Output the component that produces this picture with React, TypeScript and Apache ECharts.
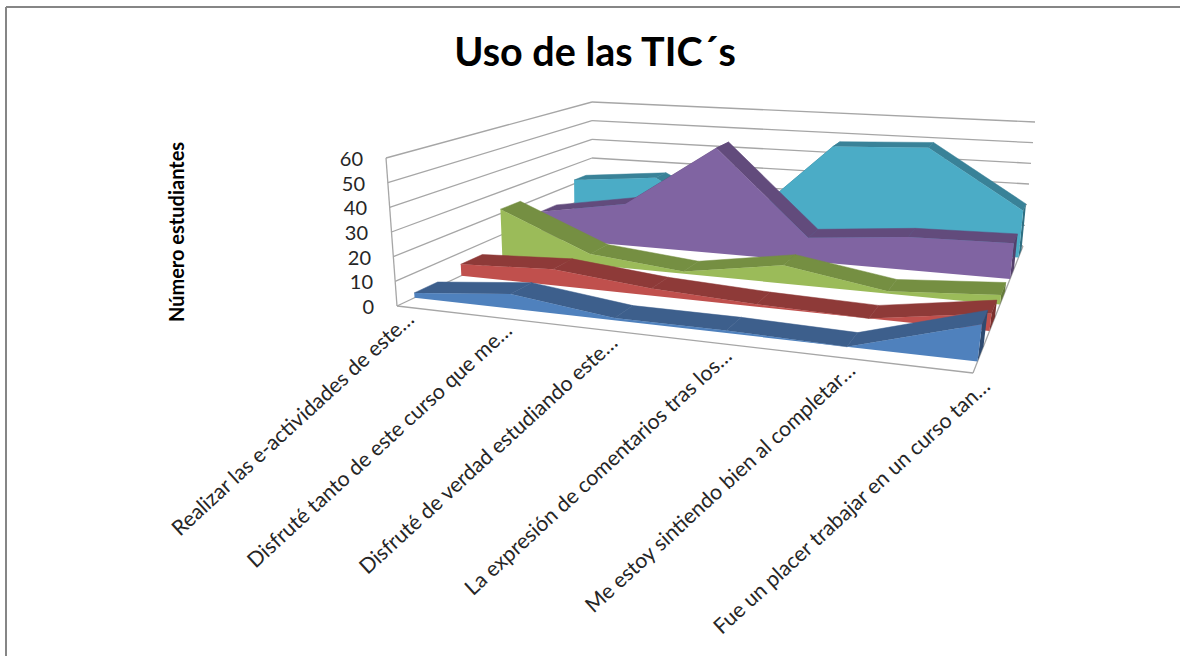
import React, { useEffect, useRef } from "react";
import * as echarts from "echarts";

const categories = [
  "Realizar las e-actividades de este…",
  "Disfruté tanto de este curso que me…",
  "Disfruté de verdad estudiando este…",
  "La expresión de comentarios tras los…",
  "Me estoy sintiendo bien al completar…",
  "Fue un placer trabajar en un curso tan…",
];
const serieA = [2, 6, 1, 1, 0, 14];
const serieB = [5, 7, 3, 1, 0, 7];
const serieC = [22, 5, 1, 8, 1, 4];
const serieD = [13, 20, 50, 11, 15, 16];
const serieE = [22, 26, 5, 47, 49, 22];
const yTicks = [0, 10, 20, 30, 40, 50, 60];
const titleText = "Uso de las TIC´s";
const yName = "Número estudiantes";
const FONT = "Lato";

// 3-D box corners on screen (u: category, d: depth, t: value/60)
const C = {
  fl0: [397, 306], fr0: [973, 373], bl0: [592, 214], br0: [1023, 246],
  fl1: [386, 158], fr1: [993, 210], bl1: [592, 102], br1: [1035, 122],
};
const warp = (u: number, d: number) => {
  const k = 0.82 + 0.07 * d;
  return (k * u) / (1 + (k - 1) * u);
};
const lerp = (a: number[], b: number[], t: number) => [a[0] + (b[0] - a[0]) * t, a[1] + (b[1] - a[1]) * t];
function proj(cat: number, d: number, v: number) {
  const u = warp(cat / 5, d);
  const t = v / 60;
  const f0 = lerp(C.fl0, C.fr0, u), b0 = lerp(C.bl0, C.br0, u);
  const f1 = lerp(C.fl1, C.fr1, u), b1 = lerp(C.bl1, C.br1, u);
  const p0 = lerp(f0, b0, d), p1 = lerp(f1, b1, d);
  return lerp(p0, p1, t);
}

const layers = [
  { name: "Serie 1", values: serieA, d0: 0.09, d1: 0.21, face: "#4F81BD", top: "#3D5F8C", side: "#2F4B70" },
  { name: "Serie 2", values: serieB, d0: 0.33, d1: 0.44, face: "#C0504D", top: "#8E3A38", side: "#7A302E" },
  { name: "Serie 3", values: serieC, d0: 0.54, d1: 0.64, face: "#9BBB59", top: "#758F42", side: "#647A38" },
  { name: "Serie 4", values: serieD, d0: 0.74, d1: 0.82, face: "#8064A2", top: "#624B7C", side: "#54406B" },
  { name: "Serie 5", values: serieE, d0: 0.91, d1: 0.97, face: "#4BACC6", top: "#398298", side: "#2F6F82" },
];

function wallItem() {
  const kids: any[] = [];
  const line = (a: number[], b: number[]) => ({
    type: "line",
    shape: { x1: a[0], y1: a[1], x2: b[0], y2: b[1] },
    style: { stroke: "#A6A6A6", lineWidth: 1.3 },
  });
  yTicks.forEach((v) => {
    kids.push(line(proj(0, 0, v), proj(0, 1, v)));
    kids.push(line(proj(0, 1, v), proj(5, 1, v)));
  });
  kids.push(line(proj(0, 0, 0), proj(0, 0, 60)));
  kids.push(line(proj(0, 0, 0), proj(5, 0, 0)));
  kids.push(line(proj(5, 0, 0), proj(5, 1, 0)));
  return { type: "group", children: kids };
}

function layerItem(l: typeof layers[number], api: any) {
  const vals = l.values.map((_, i) => api.value(i));
  const kids: any[] = [];
  for (let i = 0; i < 5; i++) {
    const pts = [proj(i, l.d0, vals[i]), proj(i + 1, l.d0, vals[i + 1]), proj(i + 1, l.d1, vals[i + 1]), proj(i, l.d1, vals[i])];
    kids.push({ type: "polygon", shape: { points: pts }, style: { fill: l.top, stroke: l.top, lineWidth: 0.5 } });
  }
  kids.push({
    type: "polygon",
    shape: { points: [proj(5, l.d0, 0), proj(5, l.d1, 0), proj(5, l.d1, vals[5]), proj(5, l.d0, vals[5])] },
    style: { fill: l.side },
  });
  const face = [proj(0, l.d0, 0), ...vals.map((v, i) => proj(i, l.d0, v)), proj(5, l.d0, 0)];
  kids.push({ type: "polygon", shape: { points: face }, style: { fill: l.face } });
  return { type: "group", children: kids };
}

function labelItem(api: any, i: number) {
  const p = proj(i, 0, 0);
  return {
    type: "text",
    x: p[0] + 13,
    y: p[1] + 9,
    rotation: (42.5 * Math.PI) / 180,
    originX: 0,
    originY: 0,
    style: { text: categories[i], fontSize: 21.2, fontFamily: FONT, fill: "#262626", align: "right", verticalAlign: "middle" },
  };
}

const pad: Record<string, number> = { v0: 0, v10: 1, v20: 3, v30: 6, v40: 7, v50: 9, v60: 11 };

export default function App() {
  const ref = useRef<HTMLDivElement>(null);
  useEffect(() => {
    const chart = echarts.init(ref.current!, undefined, { renderer: "svg" });
    const rich: any = {};
    yTicks.forEach((v) => {
      rich["v" + v] = { fontSize: 20, fontFamily: FONT, color: "#262626", padding: [0, pad["v" + v], 0, 0] };
    });
    chart.setOption({
      animation: false,
      backgroundColor: "#fff",
      title: {
        text: titleText,
        left: 590,
        top: 25,
        textAlign: "center",
        textStyle: { fontSize: 39.5, fontWeight: "bold", fontFamily: FONT, color: "#000" },
      },
      graphic: [
        { type: "line", shape: { x1: 6, y1: 7, x2: 6, y2: 656 }, style: { stroke: "#868686", lineWidth: 2 } },
        { type: "line", shape: { x1: 6, y1: 7, x2: 1180, y2: 7 }, style: { stroke: "#868686", lineWidth: 2 } },
      ],
      grid: { left: 374, top: 158, width: 600, height: 148 },
      xAxis: { type: "category", data: categories, show: false },
      yAxis: {
        type: "value",
        min: 0,
        max: 60,
        interval: 10,
        axisLine: { show: false },
        axisTick: { show: false },
        splitLine: { show: false },
        axisLabel: {
          margin: 0,
          formatter: (v: number) => `{v${v}|${v}}`,
          rich,
        },
        name: yName,
        nameLocation: "middle",
        nameGap: 188,
        nameRotate: 90,
        nameTextStyle: { fontSize: 20, fontWeight: "bold", fontFamily: FONT, color: "#000" },
      },
      series: [
        {
          type: "custom",
          coordinateSystem: "none",
          silent: true,
          data: [[0]],
          z: 1,
          renderItem: () => wallItem(),
        },
        ...[...layers].reverse().map((l, k) => ({
          type: "custom",
          name: l.name,
          coordinateSystem: "none",
          silent: true,
          z: 2 + k,
          dimensions: ["c0", "c1", "c2", "c3", "c4", "c5"],
          data: [l.values],
          renderItem: (_p: any, api: any) => layerItem(l, api),
        })),
        {
          type: "custom",
          coordinateSystem: "none",
          silent: true,
          z: 10,
          data: categories.map((_, i) => [i]),
          renderItem: (p: any, api: any) => labelItem(api, p.dataIndex),
        },
      ],
    });
    return () => chart.dispose();
  }, []);
  return <div ref={ref} style={{ position: "fixed", left: 0, top: 0, width: 1180, height: 656 }} />;
}
